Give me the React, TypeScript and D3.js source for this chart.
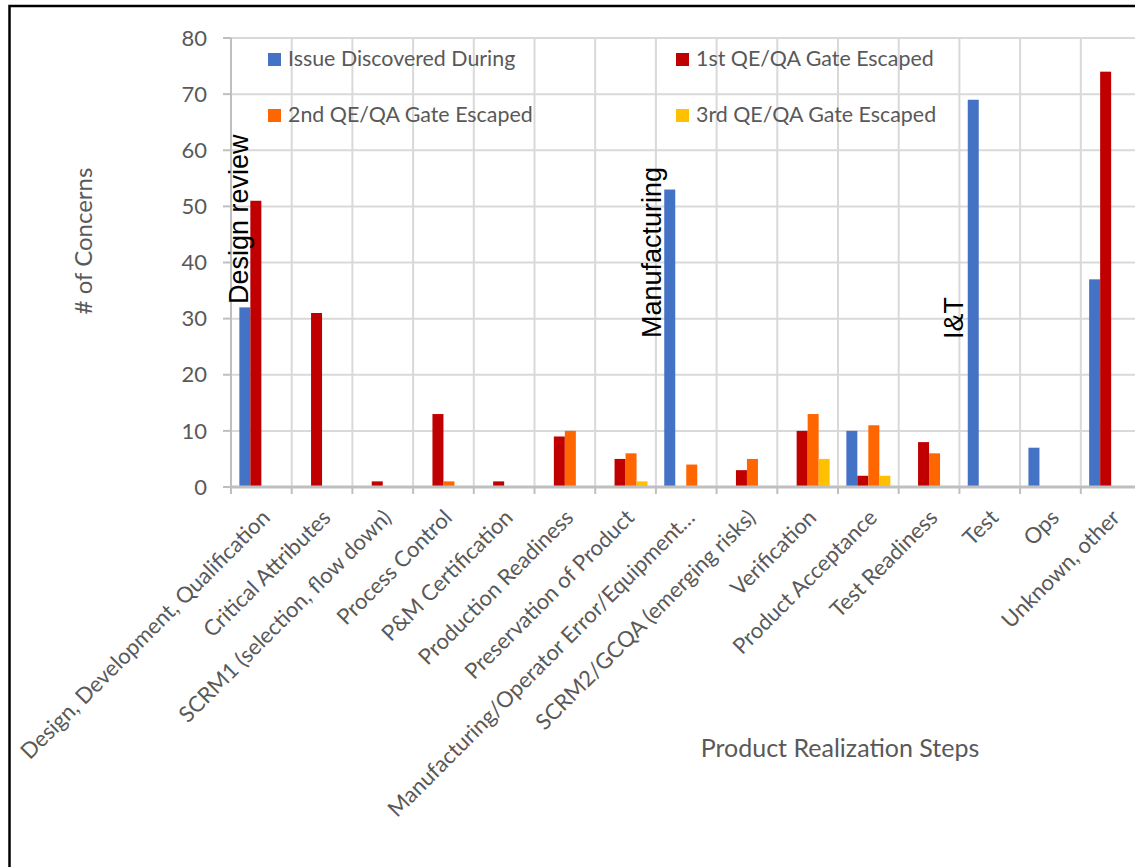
import React from "react";
import * as d3 from "d3";

// Product realization steps (x categories)
const categories = [
  "Design, Development, Qualification",
  "Critical Attributes",
  "SCRM1 (selection, flow down)",
  "Process Control",
  "P&M Certification",
  "Production Readiness",
  "Preservation of Product",
  "Manufacturing/Operator Error/Equipment…",
  "SCRM2/GCQA (emerging risks)",
  "Verification",
  "Product Acceptance",
  "Test Readiness",
  "Test",
  "Ops",
  "Unknown, other",
];

const seriesNames = [
  "Issue Discovered During",
  "1st QE/QA Gate Escaped",
  "2nd QE/QA Gate Escaped",
  "3rd QE/QA Gate Escaped",
];

const issueDiscovered = [32, 0, 0, 0, 0, 0, 0, 53, 0, 0, 10, 0, 69, 7, 37];
const gate1Escaped = [51, 31, 1, 13, 1, 9, 5, 0, 3, 10, 2, 8, 0, 0, 74];
const gate2Escaped = [0, 0, 0, 1, 0, 10, 6, 4, 5, 13, 11, 6, 0, 0, 0];
const gate3Escaped = [0, 0, 0, 0, 0, 0, 1, 0, 0, 5, 2, 0, 0, 0, 0];

const yTicks = [0, 10, 20, 30, 40, 50, 60, 70, 80];

// Phase callouts written over the bars
const callouts = ["Design review", "Manufacturing", "I&T"];
const calloutCategories = [0, 7, 12];

const colors = ["#4472C4", "#C00000", "#FF6600", "#FFC000"];

export default function App() {
  const W = 1135;
  const H = 867;
  const left = 231;
  const bandW = 60.7;
  const right = left + bandW * categories.length;
  const top = 38;
  const bottom = 487;

  const values = [issueDiscovered, gate1Escaped, gate2Escaped, gate3Escaped];

  const x = d3.scaleBand<string>().domain(categories).range([left, right]).padding(0);
  const inner = d3
    .scaleBand<string>()
    .domain(seriesNames)
    .range([8.35, x.bandwidth() - 8.35])
    .padding(0);
  const y = d3.scaleLinear().domain([0, 80]).range([bottom, top]);

  const grey = "#595959";
  const gridColor = "#d9d9d9";
  const axisColor = "#bfbfbf";
  const boundaries = d3.range(categories.length + 1).map((i) => left + i * x.bandwidth());

  const calloutOffsets = [
    { dx: 17, yStart: 304 },
    { dx: 5, yStart: 338 },
    { dx: 4, yStart: 339 },
  ];

  const legendPos = [
    { x: 268, y: 53 },
    { x: 676, y: 53 },
    { x: 268, y: 109 },
    { x: 676, y: 109 },
  ];

  return (
    <svg
      width={W}
      height={H}
      style={{ position: "absolute", left: 0, top: 0, background: "#fff" }}
      fontFamily="Lato, 'Open Sans', sans-serif"
    >
      <rect x={0} y={0} width={W} height={H} fill="#fff" />
      {/* horizontal gridlines */}
      {yTicks.map((t) => (
        <line key={"h" + t} x1={left} x2={right} y1={y(t)} y2={y(t)} stroke={gridColor} strokeWidth={2} />
      ))}
      {/* vertical gridlines at category boundaries */}
      {boundaries.map((b, i) => (
        <line key={"v" + i} x1={b} x2={b} y1={top} y2={bottom} stroke={gridColor} strokeWidth={2} />
      ))}

      {/* bars */}
      {values.map((arr, si) =>
        arr.map((v, ci) =>
          v > 0 ? (
            <rect
              key={si + "-" + ci}
              x={(x(categories[ci]) as number) + (inner(seriesNames[si]) as number)}
              width={inner.bandwidth()}
              y={y(v)}
              height={y(0) - y(v)}
              fill={colors[si]}
            />
          ) : null
        )
      )}

      {/* y axis */}
      <line x1={left} x2={left} y1={top} y2={bottom} stroke={axisColor} strokeWidth={2} />
      {yTicks.map((t) => (
        <g key={"yt" + t}>
          <line x1={left - 8} x2={left} y1={y(t)} y2={y(t)} stroke={axisColor} strokeWidth={2} />
          <text x={207} y={y(t)} dy="0.35em" textAnchor="end" fontSize={22} fill={grey}>
            {t}
          </text>
        </g>
      ))}

      {/* x axis */}
      <line x1={left} x2={right} y1={bottom} y2={bottom} stroke={axisColor} strokeWidth={3} />
      {boundaries.map((b, i) => (
        <line key={"xt" + i} x1={b} x2={b} y1={bottom} y2={bottom + 7} stroke={axisColor} strokeWidth={2} />
      ))}
      {categories.map((c) => {
        const cx = (x(c) as number) + x.bandwidth() / 2;
        return (
          <text
            key={"xl" + c}
            transform={`translate(${cx + 10},519) rotate(-45)`}
            textAnchor="end"
            fontSize={22}
            fill={grey}
          >
            {c}
          </text>
        );
      })}

      {/* axis titles */}
      <text transform="translate(92,241) rotate(-90)" textAnchor="middle" fontSize={24} fill={grey}>
        # of Concerns
      </text>
      <text x={840} y={757} textAnchor="middle" fontSize={25} fill={grey}>
        Product Realization Steps
      </text>

      {/* legend */}
      {seriesNames.map((s, i) => (
        <g key={"lg" + s}>
          <rect x={legendPos[i].x} y={legendPos[i].y} width={13} height={13} fill={colors[i]} />
          <text x={legendPos[i].x + 20} y={legendPos[i].y + 13} fontSize={21.4} fill={grey}>
            {s}
          </text>
        </g>
      ))}

      {/* phase callouts */}
      {callouts.map((label, i) => {
        const cx = (x(categories[calloutCategories[i]]) as number) + calloutOffsets[i].dx;
        return (
          <text
            key={"co" + label}
            transform={`translate(${cx},${calloutOffsets[i].yStart}) rotate(-90)`}
            fontFamily="'Liberation Sans', Arial, sans-serif"
            fontSize={27}
            fill="#000"
          >
            {label}
          </text>
        );
      })}

      {/* chart frame */}
      <rect x={9.5} y={6} width={W + 20} height={H + 20} fill="none" stroke="#000" strokeWidth={2.5} />
    </svg>
  );
}
